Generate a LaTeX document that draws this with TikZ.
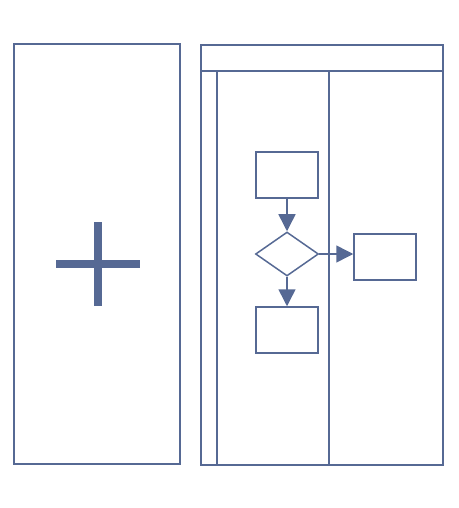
\documentclass[tikz,border=0pt]{standalone}
\usetikzlibrary{shapes.geometric,arrows.meta}
\definecolor{ink}{HTML}{566994}
\begin{document}
\begin{tikzpicture}[x=1pt,y=-1pt,
  frame/.style={draw=ink,line width=1.8pt},
  task/.style={draw=ink,line width=1.5pt,rectangle,minimum width=62pt,minimum height=46pt,inner sep=0pt},
  gate/.style={draw=ink,line width=1.5pt,diamond,minimum width=63pt,minimum height=44pt,inner sep=0pt},
  flow/.style={draw=ink,line width=1.5pt,-{Triangle[length=17pt,width=17pt]}}]
\useasboundingbox (0,0) rectangle (458,508);
% left panel with plus
\draw[frame] (14,44) rectangle (180,464);
\fill[ink] (94,222) rectangle (102,306);
\fill[ink] (56,260) rectangle (140,268);
% pool
\draw[frame] (201,45) rectangle (443,465);
\draw[frame] (201,71) -- (443,71);
\draw[frame] (217,71) -- (217,465);
\draw[frame] (329,71) -- (329,465);
% flow nodes
\node[task] (t1) at (287,175) {};
\node[gate] (g) at (287,254) {};
\node[task] (t2) at (287,330) {};
\node[task] (t3) at (385,257) {};
\draw[flow] (t1) -- (g);
\draw[flow] (g) -- (t2);
\draw[flow] (g.east) -- (t3.west|-g.east);
\end{tikzpicture}
\end{document}
